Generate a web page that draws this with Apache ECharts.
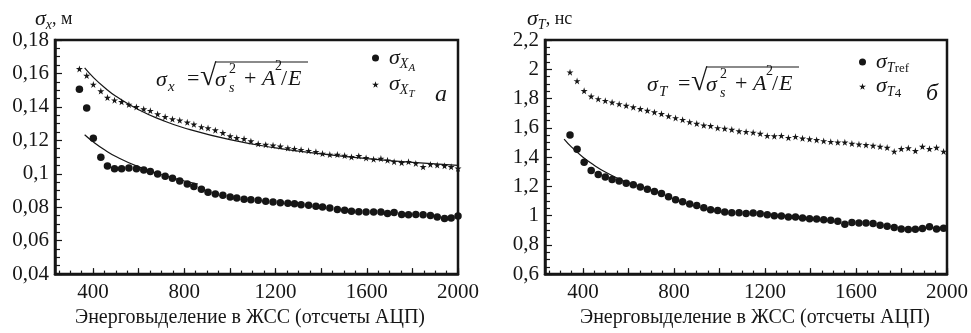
<!DOCTYPE html>
<html><head><meta charset="utf-8">
<script src="https://cdn.jsdelivr.net/npm/echarts@6/dist/echarts.min.js"></script>
<style>html,body{margin:0;padding:0;background:#fff}#c{width:971px;height:333px}</style>
</head><body><div id="c"></div>
<script>
// ---------- data ----------
const xLeft = [340,372,401,434,463,494,525,557,590,622,651,683,716,748,780,813,842,875,904,936,969,1001,1030,1062,1092,1124,1157,1189,1221,1254,1283,1312,1345,1377,1406,1438,1471,1503,1533,1565,1597,1630,1662,1691,1720,1753,1783,1815,1847,1879,1909,1941,1970,2000];
const sigmaXA = [0.1505,0.1394,0.1213,0.1099,0.1046,0.1030,0.1030,0.1034,0.1030,0.1022,0.1013,0.0999,0.0985,0.0973,0.0957,0.0939,0.0924,0.0908,0.0890,0.0879,0.0871,0.0861,0.0855,0.0847,0.0844,0.0841,0.0835,0.0831,0.0827,0.0824,0.0821,0.0815,0.0812,0.0806,0.0802,0.0796,0.0786,0.0782,0.0776,0.0773,0.0772,0.0772,0.0772,0.0762,0.0768,0.0756,0.0755,0.0756,0.0755,0.0750,0.0741,0.0733,0.0736,0.0747];
const sigmaXT = [0.1627,0.1587,0.1534,0.1495,0.1456,0.1440,0.1430,0.1414,0.1400,0.1387,0.1377,0.1357,0.1341,0.1327,0.1320,0.1308,0.1296,0.1280,0.1273,0.1261,0.1245,0.1225,0.1215,0.1209,0.1195,0.1179,0.1174,0.1170,0.1164,0.1154,0.1150,0.1144,0.1138,0.1131,0.1121,0.1115,0.1115,0.1109,0.1101,0.1107,0.1095,0.1087,0.1091,0.1081,0.1072,0.1066,0.1072,0.1062,0.1042,0.1056,0.1052,0.1048,0.1042,0.1032];
const fitXTx = [363,400,450,500,600,700,800,1000,1200,1400,1600,1800,2000];
const fitXTy = [0.1633,0.1578,0.1516,0.1464,0.1383,0.1322,0.1274,0.1204,0.1155,0.1119,0.1091,0.1068,0.1050];
const fitXAx = [363,400,450,500,600,700,800,860];
const fitXAy = [0.1233,0.1191,0.1143,0.1103,0.1041,0.0994,0.0957,0.0939];

const xRight = [343,374,405,436,467,498,528,559,590,621,652,683,714,745,776,807,838,869,900,931,961,992,1023,1054,1086,1117,1148,1179,1210,1241,1272,1303,1334,1365,1396,1427,1458,1489,1520,1551,1582,1613,1644,1675,1706,1737,1768,1799,1830,1861,1892,1923,1954,1985];
const sigmaTref = [1.550,1.454,1.364,1.308,1.281,1.263,1.247,1.236,1.221,1.210,1.196,1.180,1.165,1.151,1.129,1.109,1.095,1.079,1.069,1.053,1.039,1.035,1.024,1.019,1.020,1.015,1.017,1.012,1.006,0.999,0.997,0.990,0.990,0.983,0.979,0.976,0.972,0.968,0.961,0.941,0.952,0.950,0.950,0.945,0.934,0.927,0.918,0.909,0.905,0.907,0.911,0.923,0.909,0.914];
const sigmaT4 = [1.980,1.920,1.853,1.815,1.797,1.785,1.774,1.763,1.752,1.741,1.729,1.718,1.707,1.696,1.680,1.667,1.655,1.640,1.629,1.617,1.613,1.599,1.595,1.588,1.577,1.573,1.568,1.561,1.546,1.543,1.546,1.532,1.539,1.528,1.523,1.517,1.510,1.505,1.501,1.501,1.492,1.487,1.483,1.478,1.472,1.465,1.438,1.456,1.461,1.443,1.472,1.456,1.465,1.438];
const fitTrefx = [317,350,400,450,500,560,620];
const fitTrefy = [1.523,1.468,1.399,1.343,1.296,1.249,1.210];

const xLabelTicks = [400,800,1200,1600,2000];
const xMidTicks = [400,600,800,1000,1200,1400,1600,1800,2000];
const xSmallTicks = [250,300,350,400,450,500,550,600,650,700,750,800,850,900,950,1000,1050,1100,1150,1200,1250,1300,1350,1400,1450,1500,1550,1600,1650,1700,1750,1800,1850,1900,1950,2000];
const xTitle = 'Энерговыделение в ЖСС (отсчеты АЦП)';

// ---------- chart ----------
const FONT = '"Liberation Serif", "Times New Roman", serif';
const INK = '#161616';
const STAR = 'path://M50,0 L61,35 L98,35 L68,57 L79,91 L50,70 L21,91 L32,57 L2,35 L39,35 Z';
const comma = v => String(+v.toFixed(3)).replace('.', ',');
const pairs = (xs, ys) => xs.map((x, i) => [x, ys[i]]);

function mainX(grid) {
  return {
    type: 'value', gridIndex: grid, min: 233, max: 2000,
    axisLine: {show: true, lineStyle: {color: INK, width: 2.5}},
    axisTick: {show: true, inside: true, length: 6, customValues: xMidTicks, lineStyle: {color: INK, width: 1.2}},
    axisLabel: {customValues: xLabelTicks, formatter: v => String(Math.round(v)), fontFamily: FONT, fontSize: 21, color: INK, margin: 8},
    splitLine: {show: false},
    name: xTitle, nameLocation: 'middle', nameGap: 33,
    nameTextStyle: {fontFamily: FONT, fontSize: 20, color: INK, padding: grid === 0 ? [0, 13, 0, 0] : [0, 0, 0, 18]}
  };
}
function minorX(grid) {
  return {
    type: 'value', gridIndex: grid, min: 233, max: 2000, position: 'bottom',
    axisLine: {show: false},
    axisTick: {show: true, inside: true, length: 3.5, customValues: xSmallTicks, lineStyle: {color: INK, width: 1.2}},
    axisLabel: {show: false}, splitLine: {show: false}
  };
}
function yAx(grid, min, max, step) {
  return {
    type: 'value', gridIndex: grid, min: min, max: max, interval: step,
    axisLine: {show: true, lineStyle: {color: INK, width: 2.5}},
    axisTick: {show: true, inside: true, length: 7, lineStyle: {color: INK, width: 1.2}},
    minorTick: {show: true, splitNumber: 4, length: 5, lineStyle: {color: INK, width: 1.2}},
    axisLabel: {formatter: comma, fontFamily: FONT, fontSize: 21, color: INK, margin: 6},
    splitLine: {show: false}, minorSplitLine: {show: false}
  };
}

const legendRich = {
  s: {fontFamily: FONT, fontStyle: 'italic', fontSize: 22, color: INK, padding: [0, 0, 0, 5]},
  sub: {fontFamily: FONT, fontStyle: 'italic', fontSize: 14, color: INK, padding: [12, 0, 0, 0]},
  subsub: {fontFamily: FONT, fontStyle: 'italic', fontSize: 11, color: INK, padding: [20, 0, 0, 0]},
  subup: {fontFamily: FONT, fontSize: 13, color: INK, padding: [14, 0, 0, 0]}
};
const legendText = {
  'σXA': '{s|σ}{sub|X}{subsub|A}',
  'σXT': '{s|σ}{sub|X}{subsub|T}',
  'σTref': '{s|σ}{sub|T}{subup|ref}',
  'σT4': '{s|σ}{sub|T}{subup|4}'
};

function t(x, y, s, size, italic) {
  return {type: 'text', x: x, y: y, silent: true,
    style: {text: s, font: (italic ? 'italic ' : '') + size + 'px ' + FONT, fill: INK,
      align: 'left', verticalAlign: 'middle', textAlign: 'left', textVerticalAlign: 'middle'}};
}
function hline(x1, x2, y) {
  return {type: 'line', silent: true, shape: {x1: x1, y1: y, x2: x2, y2: y}, style: {stroke: INK, lineWidth: 1.2}};
}
function formula(dx, dy, subChar) {
  const b = 80 + dy;
  return [
    t(156 + dx, b, 'σ', 22, true),
    t(168 + dx, b + 7, subChar, 15, true),
    t(187 + dx, b - 1, '=', 22, false),
    t(200 + dx, b - 3, '√', 30, false),
    hline(215 + dx, 308 + dx, b - 18),
    t(215 + dx, b, 'σ', 22, true),
    t(229 + dx, b - 11, '2', 14, false),
    t(229 + dx, b + 8, 's', 14, true),
    t(244 + dx, b - 1, '+', 22, false),
    t(262 + dx, b - 1, 'A', 22, true),
    t(275 + dx, b - 14, '2', 14, false),
    t(281 + dx, b - 1, '/', 22, false),
    t(288 + dx, b - 1, 'E', 22, true)
  ];
}
const scatterStyle = {color: INK, opacity: 1};
const starStyle = {color: INK, opacity: 1, borderWidth: 0};

const option = {
  animation: false,
  backgroundColor: '#fff',
  grid: [
    {left: 55, top: 40, width: 403, height: 237, show: true, borderColor: INK, borderWidth: 2.5, backgroundColor: 'transparent'},
    {left: 545, top: 40, width: 404, height: 238, show: true, borderColor: INK, borderWidth: 2.5, backgroundColor: 'transparent'}
  ],
  xAxis: [mainX(0), minorX(0), mainX(1), minorX(1)],
  yAxis: [yAx(0, 0.04, 0.18, 0.02), yAx(1, 0.6, 2.2, 0.2)],
  legend: [
    {data: [{name: 'σXA', icon: 'circle'}, {name: 'σXT', icon: STAR}], orient: 'vertical', left: 367, top: 42,
      itemWidth: 7, itemHeight: 7, itemGap: 0, itemStyle: {borderWidth: 0}, formatter: n => legendText[n], textStyle: {rich: legendRich}, selectedMode: false},
    {data: [{name: 'σTref', icon: 'circle'}, {name: 'σT4', icon: STAR}], orient: 'vertical', left: 854, top: 46,
      itemWidth: 7, itemHeight: 7, itemGap: 0, itemStyle: {borderWidth: 0}, formatter: n => legendText[n], textStyle: {rich: legendRich}, selectedMode: false}
  ],
  graphic: [
    {type: 'text', left: 35, top: 8, silent: true, style: {rich: {
      a: {fontFamily: FONT, fontStyle: 'italic', fontSize: 22, fill: INK},
      b: {fontFamily: FONT, fontStyle: 'italic', fontSize: 14, fill: INK, padding: [12, 0, 0, 0]},
      c: {fontFamily: FONT, fontSize: 18, fill: INK}}, text: '{a|σ}{b|x}{c|, м}'}},
    {type: 'text', left: 527, top: 8, silent: true, style: {rich: {
      a: {fontFamily: FONT, fontStyle: 'italic', fontSize: 22, fill: INK},
      b: {fontFamily: FONT, fontStyle: 'italic', fontSize: 14, fill: INK, padding: [12, 0, 0, 0]},
      c: {fontFamily: FONT, fontSize: 18, fill: INK}}, text: '{a|σ}{b|T}{c|, нс}'}},
    t(435, 95, 'a', 24, true),
    t(926, 94, 'б', 24, true)
  ].concat(formula(0, 0, 'x'), formula(491, 5, 'T')),
  series: [
    {type: 'line', name: 'fitXT', xAxisIndex: 0, yAxisIndex: 0, data: pairs(fitXTx, fitXTy), smooth: true, showSymbol: false, lineStyle: {color: INK, width: 1.2}, z: 1},
    {type: 'line', name: 'fitXA', xAxisIndex: 0, yAxisIndex: 0, data: pairs(fitXAx, fitXAy), smooth: true, showSymbol: false, lineStyle: {color: INK, width: 1.2}, z: 1},
    {type: 'scatter', name: 'σXA', xAxisIndex: 0, yAxisIndex: 0, data: pairs(xLeft, sigmaXA), symbol: 'circle', symbolSize: 7.5, itemStyle: scatterStyle, z: 3},
    {type: 'scatter', name: 'σXT', xAxisIndex: 0, yAxisIndex: 0, data: pairs(xLeft, sigmaXT), symbol: STAR, symbolSize: 7, itemStyle: starStyle, z: 3},
    {type: 'line', name: 'fitTref', xAxisIndex: 2, yAxisIndex: 1, data: pairs(fitTrefx, fitTrefy), smooth: true, showSymbol: false, lineStyle: {color: INK, width: 1.2}, z: 1},
    {type: 'scatter', name: 'σTref', xAxisIndex: 2, yAxisIndex: 1, data: pairs(xRight, sigmaTref), symbol: 'circle', symbolSize: 7.5, itemStyle: scatterStyle, z: 3},
    {type: 'scatter', name: 'σT4', xAxisIndex: 2, yAxisIndex: 1, data: pairs(xRight, sigmaT4), symbol: STAR, symbolSize: 7, itemStyle: starStyle, z: 3}
  ]
};
const chart = echarts.init(document.getElementById('c'), null, {renderer: 'canvas'});
chart.setOption(option);
</script></body></html>
